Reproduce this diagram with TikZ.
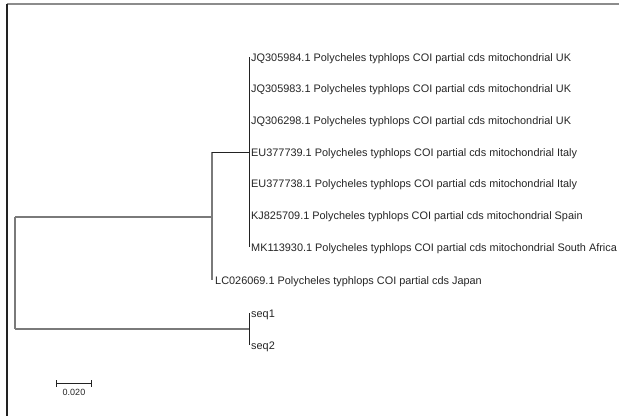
\documentclass[tikz,border=0pt]{standalone}
\usepackage{fontspec}
\setmainfont{Liberation Sans}
\definecolor{txt}{HTML}{262626}
\definecolor{darkline}{HTML}{222222}
\definecolor{grayline}{HTML}{7A7A7A}
\definecolor{frametop}{HTML}{8C8C8C}
\tikzset{
  leaf/.style={anchor=base west, inner sep=0pt, text=txt, font=\fontsize{10.9}{13}\selectfont},
  darkbr/.style={draw=darkline, line width=0.9pt},
  graybr/.style={draw=grayline, line width=1.3pt},
  scalebar/.style={draw=darkline, line width=0.8pt},
  scalelabel/.style={anchor=center, inner sep=0pt, text=txt, font=\fontsize{9}{10}\selectfont},
}
\begin{document}
\begin{tikzpicture}[x=1pt,y=-1pt]
\useasboundingbox[fill=white] (0,0) rectangle (619,416);
% frame
\draw[draw=frametop, line width=1.7pt] (6.7,4) -- (619,4);
\draw[draw=darkline, line width=1.7pt] (6.7,4) -- (6.7,416);
% tree coordinates
\coordinate (rt) at (15,217);
\coordinate (rb) at (15,329);
\coordinate (inMid) at (212,217);
\coordinate (inTop) at (212,152);
\coordinate (inBot) at (212,280);
\coordinate (clMid) at (249,152);
\coordinate (clTop) at (249,57);
\coordinate (clBot) at (249,247);
\coordinate (sqMid) at (249,329);
\coordinate (sqTop) at (249,313);
\coordinate (sqBot) at (249,345);
% branches
\draw[graybr] (rt) -- (rb);
\draw[graybr] (rt) -- (inMid);
\draw[graybr] (rb) -- (sqMid);
\draw[graybr] (inTop) -- (inBot);
\draw[darkbr] (inTop) -- (clMid);
\draw[darkbr] (clTop) -- (clBot);
\draw[darkbr] (sqTop) -- (sqBot);
% leaf labels
\node[leaf] (l1) at (251,61) {JQ305984.1 Polycheles typhlops COI partial cds mitochondrial UK};
\node[leaf] (l2) at (251,92.7) {JQ305983.1 Polycheles typhlops COI partial cds mitochondrial UK};
\node[leaf] (l3) at (251,124.3) {JQ306298.1 Polycheles typhlops COI partial cds mitochondrial UK};
\node[leaf] (l4) at (251,156) {EU377739.1 Polycheles typhlops COI partial cds mitochondrial Italy};
\node[leaf] (l5) at (251,187.7) {EU377738.1 Polycheles typhlops COI partial cds mitochondrial Italy};
\node[leaf] (l6) at (251,219.3) {KJ825709.1 Polycheles typhlops COI partial cds mitochondrial Spain};
\node[leaf] (l7) at (251,251) {MK113930.1 Polycheles typhlops COI partial cds mitochondrial South Africa};
\node[leaf] (l8) at (215,284) {LC026069.1 Polycheles typhlops COI partial cds Japan};
\node[leaf] (l9) at (251,317) {seq1};
\node[leaf] (l10) at (251,349) {seq2};
% scale bar
\coordinate (sbL) at (56.7,383.3);
\coordinate (sbR) at (91.3,383.3);
\draw[scalebar] (sbL) -- (sbR);
\draw[scalebar] ([yshift=-3.5pt]sbL) -- ([yshift=3.5pt]sbL);
\draw[scalebar] ([yshift=-3.5pt]sbR) -- ([yshift=3.5pt]sbR);
\node[scalelabel] (sblab) at (74,392.5) {0.020};
\end{tikzpicture}
\end{document}
